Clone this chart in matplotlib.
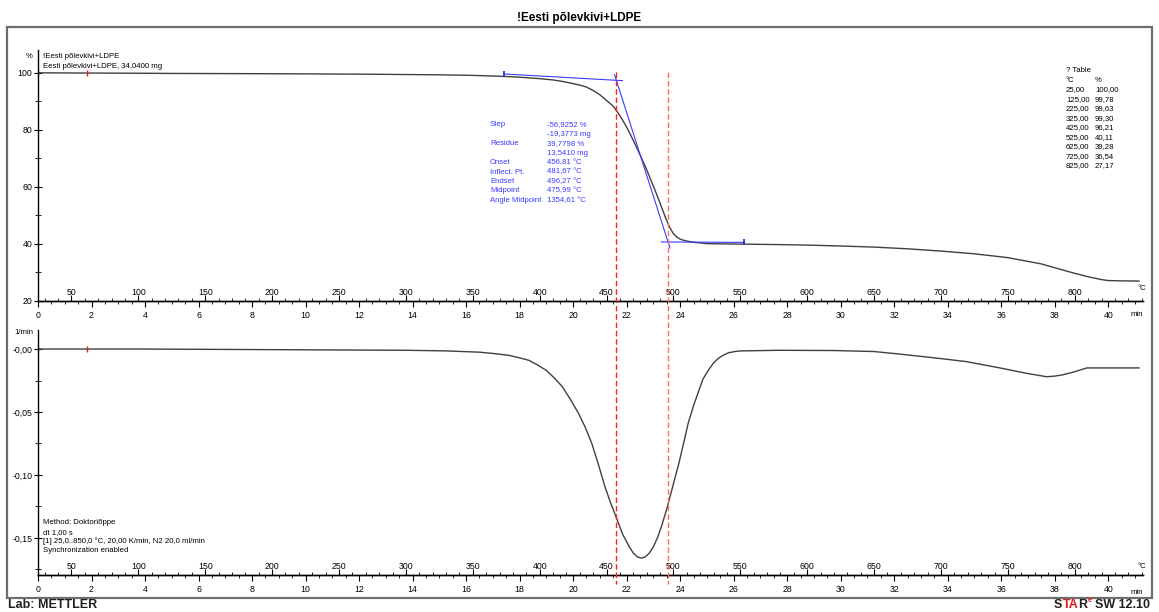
import numpy as np
import matplotlib.pyplot as plt
import matplotlib.transforms as mtransforms
from matplotlib.patches import Rectangle
from matplotlib.lines import Line2D
from matplotlib.ticker import MultipleLocator, FixedLocator, FuncFormatter

# ------------------------------------------------------------
# Data
# ------------------------------------------------------------
T_START = 25.0      # °C
RATE = 20.0         # K/min

# TGA curve: temperature (°C) -> mass (%)
tga_temp = [25, 100, 125, 200, 225, 275, 325, 350, 360, 370, 380, 390, 400,
            410, 418, 425, 430, 435, 440, 445, 450, 455, 460, 465, 470, 475,
            480, 485, 490, 494, 497, 500, 503, 506, 510, 515, 525, 550, 575,
            600, 625, 650, 675, 700, 725, 750, 775, 790, 800, 810, 820, 825,
            835, 848]
tga_pct = [100.00, 99.85, 99.78, 99.68, 99.63, 99.50, 99.30, 99.10, 98.95,
           98.80, 98.60, 98.30, 97.95, 97.50, 96.90, 96.21, 95.70, 95.00,
           93.80, 92.30, 90.30, 88.30, 85.00, 81.00, 76.30, 71.30, 66.00,
           60.30, 54.30, 49.30, 46.00, 43.60, 42.20, 41.50, 41.00, 40.60,
           40.11, 39.95, 39.80, 39.60, 39.28, 38.90, 38.30, 37.50, 36.54,
           35.20, 33.00, 31.00, 29.70, 28.50, 27.50, 27.17, 27.05, 27.00]

# DTG curve: temperature (°C) -> 1/min
dtg_temp = [25, 100, 200, 300, 330, 355, 365, 377, 385, 392, 399, 405, 411,
            417, 423, 429, 434, 439, 444, 449, 453, 457, 462, 467, 470, 473,
            476, 479, 482, 485, 488, 491, 495, 499, 504, 508, 511, 515, 519,
            522, 526, 530, 534, 538, 541, 546, 550, 580, 620, 650, 669, 695,
            719, 744, 765, 779, 785, 791, 800, 809, 848]
dtg_val = [0.0, 0.0, -0.0005, -0.001, -0.0015, -0.0025, -0.0035, -0.005,
           -0.007, -0.009, -0.013, -0.017, -0.023, -0.030, -0.040, -0.051,
           -0.062, -0.075, -0.092, -0.110, -0.122, -0.133, -0.147, -0.157,
           -0.162, -0.165, -0.166, -0.165, -0.162, -0.157, -0.150, -0.141,
           -0.127, -0.111, -0.091, -0.073, -0.059, -0.045, -0.033, -0.024,
           -0.017, -0.011, -0.007, -0.0045, -0.003, -0.002, -0.0015, -0.001,
           -0.0012, -0.002, -0.004, -0.007, -0.010, -0.015, -0.0195, -0.022,
           -0.0215, -0.0205, -0.018, -0.015, -0.015]

# step evaluation (tangents in minutes / %)
base1_min = [17.4, 21.85]
base1_pct = [99.6, 97.25]
steep_min = [21.55, 23.62]
steep_pct = [99.3, 38.6]
base2_min = [23.3, 26.4]
base2_pct = [40.7, 40.55]
tangent_mark_min = [17.4, 26.4]
tangent_mark_pct = [99.6, 40.55]
start_mark_min = [0.0, 1.83]

onset_T = 456.81
endset_T = 496.27

step_labels = ["Step", "", "Residue", "", "Onset", "Inflect. Pt.", "Endset",
               "Midpoint", "Angle Midpoint"]
step_values = ["-56,9252 %", "-19,3773 mg", "39,7798 %", "13,5410 mg",
               "456,81 °C", "481,67 °C", "496,27 °C", "475,99 °C",
               "1354,61 °C"]

table_temp = ["25,00", "125,00", "225,00", "325,00", "425,00", "525,00",
              "625,00", "725,00", "825,00"]
table_pct = ["100,00", "99,78", "99,63", "99,30", "96,21", "40,11", "39,28",
             "36,54", "27,17"]

method_lines = ["Method: Doktoriõppe", "dt 1,00 s",
                "[1] 25,0..850,0 °C, 20,00 K/min, N2 20,0 ml/min",
                "Synchronization enabled"]


def to_min(T):
    return (np.asarray(T, dtype=float) - T_START) / RATE


def to_temp(t):
    return T_START + RATE * np.asarray(t, dtype=float)


# ------------------------------------------------------------
# Figure layout (pixel based)
# ------------------------------------------------------------
W, H = 1159, 612
plt.rcParams['font.family'] = ['Liberation Sans', 'DejaVu Sans']

fig = plt.figure(figsize=(W / 100, H / 100), dpi=100)


def fx(x):
    return x / W


def fy(y):
    return 1 - y / H


ax1 = fig.add_axes([fx(38), fy(301), fx(1143) - fx(38), fy(50) - fy(301)])
ax2 = fig.add_axes([fx(38), fy(575), fx(1143) - fx(38), fy(330) - fy(575)])

line_col = '#404040'
blue = '#3a3aff'
small = 5.6
tick_fs = 6.3


def comma_fmt(v, pos):
    if abs(v) < 1e-9:
        return "-0,00"
    return f"{v:.2f}".replace('.', ',')


for ax in (ax1, ax2):
    ax.set_xlim(0, 41.3)
    ax.spines['top'].set_visible(False)
    ax.spines['right'].set_visible(False)
    ax.spines['left'].set_linewidth(1.0)
    ax.spines['bottom'].set_linewidth(1.0)
    ax.xaxis.set_major_locator(FixedLocator(np.arange(0, 41, 2)))
    ax.xaxis.set_minor_locator(MultipleLocator(0.5))
    ax.tick_params(axis='x', which='major', direction='out', length=4.5,
                   width=0.8, labelsize=tick_fs, pad=2.5)
    ax.tick_params(axis='x', which='minor', direction='out', length=2.5,
                   width=0.6)
    ax.tick_params(axis='y', which='major', direction='inout', length=6,
                   width=0.8, labelsize=tick_fs, pad=1)
    ax.tick_params(axis='y', which='minor', direction='inout', length=4,
                   width=0.6)

    sec = ax.secondary_xaxis(0, functions=(to_temp, to_min))
    sec.set_alignment('top')
    sec.xaxis.set_major_locator(FixedLocator(np.arange(50, 801, 50)))
    sec.xaxis.set_minor_locator(MultipleLocator(10))
    sec.tick_params(axis='x', which='major', direction='out', length=4,
                    width=0.8, labelsize=tick_fs, pad=-1)
    sec.tick_params(axis='x', which='minor', direction='out', length=2.5,
                    width=0.6)
    sec.spines['top'].set_linewidth(1.0)

# ---- top: TGA ----
ax1.set_ylim(20, 108)
ax1.yaxis.set_major_locator(FixedLocator([20, 40, 60, 80, 100]))
ax1.yaxis.set_minor_locator(MultipleLocator(10))
ax1.plot(to_min(tga_temp), tga_pct, color=line_col, lw=1.0)
ax1.plot(base1_min, base1_pct, color=blue, lw=0.8)
ax1.plot(steep_min, steep_pct, color=blue, lw=0.8)
ax1.plot(base2_min, base2_pct, color=blue, lw=0.8)
ax1.plot(tangent_mark_min, tangent_mark_pct, ls='none', marker='|',
         color='#2020ee', ms=5, mew=1.2)
ax1.plot(start_mark_min, [100, 100], ls='none', marker='|', color='#e02020',
         ms=5, mew=1.0)

# ---- bottom: DTG ----
ax2.set_ylim(-0.1794, 0.0151)
ax2.yaxis.set_major_locator(FixedLocator([0.0, -0.05, -0.10, -0.15]))
ax2.yaxis.set_minor_locator(MultipleLocator(0.025))
ax2.yaxis.set_major_formatter(FuncFormatter(comma_fmt))
ax2.plot(to_min(dtg_temp), dtg_val, color=line_col, lw=1.0)
ax2.plot(start_mark_min, [0, 0], ls='none', marker='|', color='#e02020',
         ms=5, mew=1.0)

# ---- onset / endset lines across both plots ----
trans = mtransforms.blended_transform_factory(ax1.transData, fig.transFigure)
for T, col in ((onset_T, '#ff2020'), (endset_T, '#ff6a6a')):
    t = float(to_min(T))
    fig.add_artist(Line2D([t, t], [fy(72), fy(584)], transform=trans,
                          color=col, lw=1.0, dashes=(4, 2)))

# ---- frame ----
fig.add_artist(Rectangle((fx(7), fy(598)), fx(1152) - fx(7),
                         fy(27) - fy(598), transform=fig.transFigure,
                         fill=False, ec='#6e6e6e', lw=1.6))

# ---- texts ----
fig.text(0.5, fy(18), "!Eesti põlevkivi+LDPE", ha='center', va='center',
         fontsize=8.5, fontweight='bold')
fig.text(fx(8), fy(605), "Lab: METTLER", ha='left', va='center',
         fontsize=9, fontweight='bold', color='#202020')

# STARe SW 12.10 footer, laid out right to left from the frame edge
renderer = fig.canvas.get_renderer()
right = fx(1150)
t = fig.text(right, fy(605), "SW 12.10", ha='right', va='center',
             fontsize=9, fontweight='bold', color='#202020')
xcur = right - t.get_window_extent(renderer=renderer).width / W - fx(3)
t = fig.text(xcur, fy(600), "e", ha='right', va='center', fontsize=5.5,
             fontweight='bold', color='#e02020')
xcur -= t.get_window_extent(renderer=renderer).width / W + fx(0.5)
for s, c in (("R", '#202020'), ("TA", '#e02020'), ("S", '#202020')):
    t = fig.text(xcur, fy(605), s, ha='right', va='center', fontsize=9,
                 fontweight='bold', color=c)
    xcur -= t.get_window_extent(renderer=renderer).width / W

fig.text(fx(33), fy(57), "%", ha='right', va='center', fontsize=small)
fig.text(fx(43), fy(57), "!Eesti põlevkivi+LDPE", ha='left', va='center',
         fontsize=small)
fig.text(fx(43), fy(67), "Eesti põlevkivi+LDPE, 34,0400 mg", ha='left',
         va='center', fontsize=small)
fig.text(fx(33), fy(333), "1/min", ha='right', va='center', fontsize=small)

for i, s in enumerate(method_lines):
    fig.text(fx(43), fy(523 + 9.2 * i), s, ha='left', va='center',
             fontsize=small)

for ypix, unit in ((289, "°C"), (566, "°C")):
    fig.text(fx(1137), fy(ypix), unit, ha='left', va='center', fontsize=small)
for ypix in (314, 592):
    fig.text(fx(1131), fy(ypix), "min", ha='left', va='center',
             fontsize=small)

for i, (lab, val) in enumerate(zip(step_labels, step_values)):
    yy = fy(125 + 9.4 * i)
    if lab:
        fig.text(fx(490), yy, lab, ha='left', va='center', fontsize=small,
                 color=blue)
    fig.text(fx(547), yy, val, ha='left', va='center', fontsize=small,
             color=blue)

fig.text(fx(1066), fy(71), "? Table", ha='left', va='center', fontsize=small)
fig.text(fx(1066), fy(80.5), "°C", ha='left', va='center', fontsize=small)
fig.text(fx(1095), fy(80.5), "%", ha='left', va='center', fontsize=small)
for i, (a, b) in enumerate(zip(table_temp, table_pct)):
    yy = fy(90 + 9.5 * i)
    fig.text(fx(1066), yy, a, ha='left', va='center', fontsize=small)
    fig.text(fx(1095), yy, b, ha='left', va='center', fontsize=small)

fig.savefig('out.png', dpi=100)
